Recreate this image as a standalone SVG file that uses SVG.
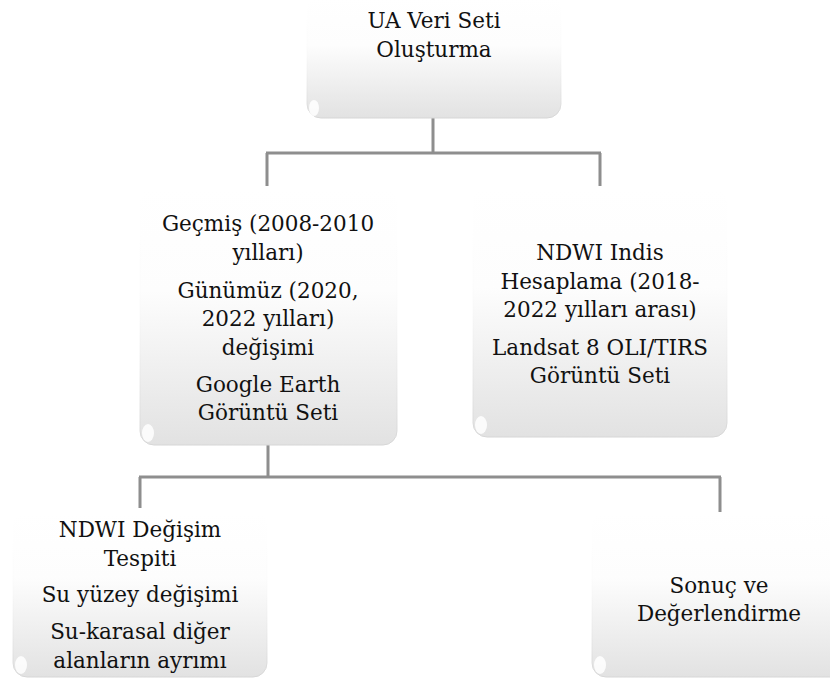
<svg xmlns="http://www.w3.org/2000/svg" width="830" height="679" viewBox="0 0 830 679">
<defs>
<linearGradient id="fill" x1="0" y1="0" x2="0" y2="1">
<stop offset="0" stop-color="#ffffff"/>
<stop offset="0.4" stop-color="#fdfdfd"/>
<stop offset="1" stop-color="#e2e2e2"/>
</linearGradient>
<linearGradient id="edge" x1="0" y1="0" x2="0" y2="1">
<stop offset="0" stop-color="#ffffff" stop-opacity="0"/>
<stop offset="0.5" stop-color="#f0f0f0" stop-opacity="0.3"/>
<stop offset="1" stop-color="#d6d6d6"/>
</linearGradient>
</defs>
<style>
.box{fill:url(#fill);stroke:url(#edge);stroke-width:1}
.hl{fill:#ffffff;opacity:0.85}
.t{font-family:"DejaVu Serif","Liberation Serif",serif;font-size:21.5px;fill:#111;text-anchor:middle}
.c{fill:none;stroke:#8e8e8e;stroke-width:3}
</style>
<g id="connectors">
<path class="c" d="M433,118 V153 M266,153 H601 M267,153 V186 M600,153 V186"/>
<path class="c" d="M268,445 V477 M139,477 H721 M140,477 V508 M720,477 V512"/>
</g>
<g id="node-top">
<rect class="box" x="307" y="-4" width="254" height="122" rx="14"/>
<ellipse class="hl" cx="314" cy="108" rx="5" ry="8"/>
<text class="t" x="434" y="28">UA Veri Seti</text>
<text class="t" x="434" y="57">Oluşturma</text>
</g>
<g id="node-google">
<rect class="box" x="140" y="188" width="257" height="257" rx="14"/>
<ellipse class="hl" cx="148" cy="433" rx="6" ry="9"/>
<text class="t" x="268" y="231">Geçmiş (2008-2010</text>
<text class="t" x="268" y="259.5">yılları)</text>
<text class="t" x="268" y="297.5">Günümüz (2020,</text>
<text class="t" x="268" y="326">2022 yılları)</text>
<text class="t" x="268" y="354.5">değişimi</text>
<text class="t" x="268" y="392">Google Earth</text>
<text class="t" x="268" y="420">Görüntü Seti</text>
</g>
<g id="node-landsat">
<rect class="box" x="473" y="188" width="254" height="249" rx="14"/>
<ellipse class="hl" cx="481" cy="425" rx="6" ry="9"/>
<text class="t" x="600" y="260">NDWI Indis</text>
<text class="t" x="600" y="288.5">Hesaplama (2018-</text>
<text class="t" x="600" y="317">2022 yılları arası)</text>
<text class="t" x="600" y="355">Landsat 8 OLI/TIRS</text>
<text class="t" x="600" y="383">Görüntü Seti</text>
</g>
<g id="node-ndwi">
<rect class="box" x="13" y="512" width="254" height="165" rx="14"/>
<ellipse class="hl" cx="21" cy="665" rx="6" ry="9"/>
<text class="t" x="140" y="537">NDWI Değişim</text>
<text class="t" x="140" y="565.5">Tespiti</text>
<text class="t" x="140" y="602">Su yüzey değişimi</text>
<text class="t" x="140" y="639">Su-karasal diğer</text>
<text class="t" x="140" y="667.5">alanların ayrımı</text>
</g>
<g id="node-sonuc">
<rect class="box" x="592" y="512" width="254" height="165" rx="14"/>
<ellipse class="hl" cx="600" cy="665" rx="6" ry="9"/>
<text class="t" x="719" y="593">Sonuç ve</text>
<text class="t" x="719" y="621">Değerlendirme</text>
</g>
</svg>
